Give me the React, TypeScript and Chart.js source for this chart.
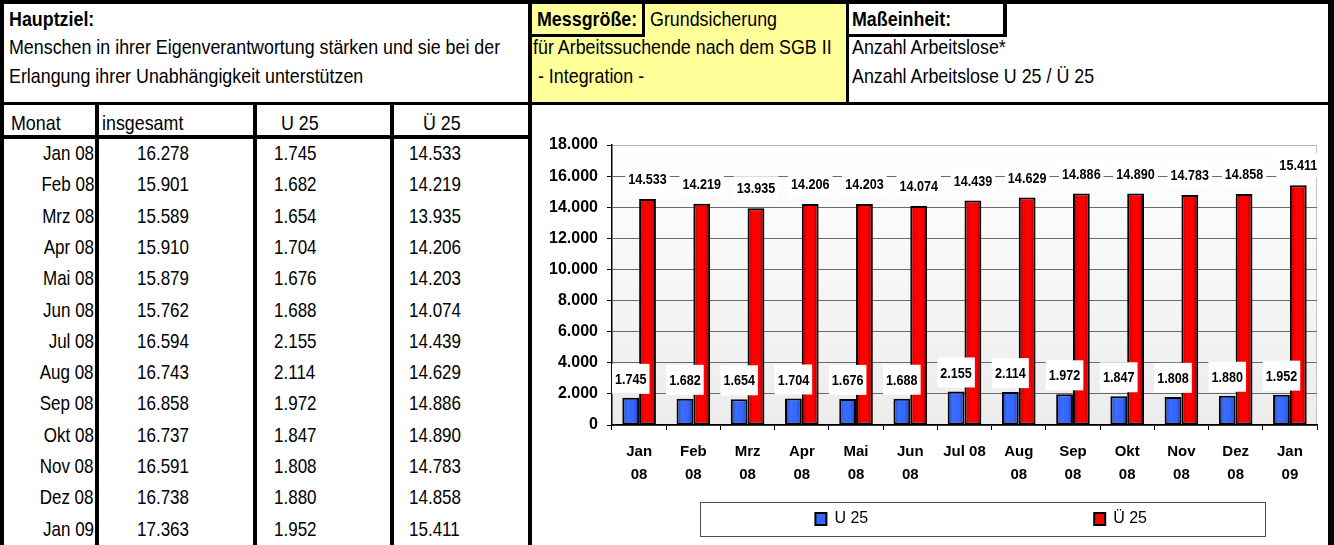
import React, { useEffect, useRef } from "react";
import { Chart, registerables } from "chart.js";

Chart.register(...registerables);

// ---------------- data ----------------
const months = ["Jan 08", "Feb 08", "Mrz 08", "Apr 08", "Mai 08", "Jun 08", "Jul 08", "Aug 08", "Sep 08", "Okt 08", "Nov 08", "Dez 08", "Jan 09"];
const totalCounts = [16278, 15901, 15589, 15910, 15879, 15762, 16594, 16743, 16858, 16737, 16591, 16738, 17363];
const under25 = [1745, 1682, 1654, 1704, 1676, 1688, 2155, 2114, 1972, 1847, 1808, 1880, 1952];
const over25 = [14533, 14219, 13935, 14206, 14203, 14074, 14439, 14629, 14886, 14890, 14783, 14858, 15411];
const axisLabels: (string | string[])[] = [["Jan", "08"], ["Feb", "08"], ["Mrz", "08"], ["Apr", "08"], ["Mai", "08"], ["Jun", "08"], "Jul 08", ["Aug", "08"], ["Sep", "08"], ["Okt", "08"], ["Nov", "08"], ["Dez", "08"], ["Jan", "09"]];
const seriesNames = ["U 25", "Ü 25"];
const yMin = 0;
const yMax = 18000;
const yStep = 2000;
const tableHeaders = ["Monat", "insgesamt", "U 25", "Ü 25"];

// ---------------- helpers ----------------
const FONT = '"Liberation Sans", Arial, sans-serif';
const K_HEAD = 0.85; // horizontal condensing of the sheet text
const K_BODY = 0.81;
const fmt = (n: number) => String(n).replace(/\B(?=(\d{3})+(?!\d))/g, ".");

const blueStops: [number, string][] = [[0, "#1e46c0"], [0.3, "#3b6dff"], [0.7, "#3366ff"], [1, "#1a3a9c"]];
const redStops: [number, string][] = [[0, "#b00000"], [0.3, "#ff0000"], [0.7, "#ff0000"], [1, "#8a0000"]];

const plotBackground = {
  id: "plotBackground",
  beforeDraw(chart: any) {
    const { ctx, chartArea: a } = chart;
    ctx.save();
    const g = ctx.createLinearGradient(0, a.top, 0, a.bottom);
    g.addColorStop(0, "#ffffff");
    g.addColorStop(1, "#ececec");
    ctx.fillStyle = g;
    ctx.fillRect(a.left, a.top, a.width, a.height);
    ctx.strokeStyle = "#c8c8c8";
    ctx.lineWidth = 1;
    ctx.beginPath();
    ctx.moveTo(a.left, a.top + 0.5);
    ctx.lineTo(a.right - 0.5, a.top + 0.5);
    ctx.lineTo(a.right - 0.5, a.bottom);
    ctx.stroke();
    ctx.restore();
  },
};

const barShading = {
  id: "barShading",
  beforeDatasetsDraw(chart: any) {
    const ctx = chart.ctx;
    chart.data.datasets.forEach((_ds: any, di: number) => {
      const meta = chart.getDatasetMeta(di);
      const stops = di === 0 ? blueStops : redStops;
      meta.data.forEach((el: any) => {
        const { x, width } = el.getProps(["x", "width"], true);
        const g = ctx.createLinearGradient(x - width / 2, 0, x + width / 2, 0);
        stops.forEach(([o, c]) => g.addColorStop(o, c));
        el.options = { ...el.options, backgroundColor: g };
      });
    });
  },
};

const LABEL_K = 0.84;
const valueLabels = {
  id: "valueLabels",
  afterDatasetsDraw(chart: any) {
    const ctx = chart.ctx;
    ctx.save();
    ctx.font = `bold 15px ${FONT}`;
    ctx.textAlign = "center";
    ctx.textBaseline = "middle";
    chart.data.datasets.forEach((ds: any, di: number) => {
      const meta = chart.getDatasetMeta(di);
      meta.data.forEach((el: any, i: number) => {
        const text = fmt(ds.data[i]);
        const tw = ctx.measureText(text).width * LABEL_K;
        const cy = el.y - (di === 0 ? 19 : 20);
        const bw = di === 0 ? Math.max(37, tw + 6) : tw + 6;
        const bh = di === 0 ? 30 : 24;
        ctx.fillStyle = "#ffffff";
        ctx.fillRect(el.x - bw / 2, cy - bh / 2, bw, bh);
        ctx.fillStyle = "#000000";
        ctx.save();
        ctx.translate(el.x, cy + 1);
        ctx.scale(LABEL_K, 1);
        ctx.fillText(text, 0, 0);
        ctx.restore();
      });
    });
    ctx.restore();
  },
};

const LEGEND_FONT = 16;
const LEGEND_BOX = 11;
const legendFrame = {
  id: "legendFrame",
  afterDraw(chart: any) {
    const lg = chart.legend;
    if (!lg || !lg.legendHitBoxes || !lg.legendHitBoxes.length) return;
    const hb = lg.legendHitBoxes;
    const first = hb[0];
    const last = hb[hb.length - 1];
    const ctx = chart.ctx;
    ctx.save();
    ctx.font = `${LEGEND_FONT}px ${FONT}`;
    const visEnd = last.left + LEGEND_BOX + LEGEND_FONT / 2 + ctx.measureText(seriesNames[seriesNames.length - 1]).width;
    const cx = (first.left + visEnd) / 2 + 1;
    const cy = first.top + first.height / 2;
    ctx.strokeStyle = "#505050";
    ctx.lineWidth = 1;
    ctx.strokeRect(Math.round(cx - 282) + 0.5, Math.round(cy - 17) + 0.5, 565, 34);
    ctx.restore();
  },
};

function BarChart() {
  const ref = useRef<HTMLCanvasElement>(null);
  useEffect(() => {
    const canvas = ref.current as HTMLCanvasElement;
    const chart = new Chart(canvas, {
      type: "bar",
      data: {
        labels: axisLabels as any,
        datasets: [
          {
            label: seriesNames[0],
            data: under25,
            backgroundColor: "#3366ff",
            borderColor: "#000000",
            borderWidth: 2,
            borderSkipped: false,
            categoryPercentage: 0.62,
            barPercentage: 1,
          },
          {
            label: seriesNames[1],
            data: over25,
            backgroundColor: "#ff0000",
            borderColor: "#000000",
            borderWidth: 2,
            borderSkipped: false,
            categoryPercentage: 0.62,
            barPercentage: 1,
          },
        ],
      },
      options: {
        responsive: false,
        animation: false,
        devicePixelRatio: 1,
        layout: { padding: { top: 40, right: 11, bottom: 8, left: 0 } },
        scales: {
          x: {
            grid: { drawOnChartArea: false, drawTicks: true, tickLength: 5, color: "#000000", offset: true },
            border: { color: "#000000", width: 1.5 },
            ticks: {
              color: "#000000",
              autoSkip: false,
              maxRotation: 0,
              minRotation: 0,
              padding: 10,
              font: { family: FONT, size: 15, weight: "bold", lineHeight: 1.53 },
            },
            afterFit: (s: any) => {
              s.height = 76;
            },
          },
          y: {
            min: yMin,
            max: yMax,
            ticks: {
              stepSize: yStep,
              color: "#000000",
              padding: 9,
              font: { family: FONT, size: 16, weight: "bold" },
              callback: (v: any) => fmt(Number(v)),
            },
            grid: {
              color: (c: any) => (c.tick && c.tick.value === yMax ? "#b4b4b4" : "#6a6a6a"),
              tickColor: "#000000",
              tickLength: 5,
            },
            border: { color: "#000000", width: 1.5 },
            afterFit: (s: any) => {
              s.width = 80;
            },
          },
        },
        plugins: {
          title: { display: false },
          tooltip: { enabled: false },
          legend: {
            position: "bottom",
            align: "end",
            fullSize: false,
            labels: {
              color: "#000000",
              boxWidth: LEGEND_BOX,
              boxHeight: 12,
              padding: 10,
              font: { family: FONT, size: LEGEND_FONT },
              generateLabels: (c: any) => {
                const base = (Chart as any).defaults.plugins.legend.labels.generateLabels(c);
                // wide spacing between the two legend entries, as in the sheet's legend box
                return base.map((it: any, i: number) => ({
                  ...it,
                  text: i === 0 ? it.text + "\u2003".repeat(13) + "\u2002" : it.text + "\u2003".repeat(10),
                }));
              },
            },
          },
        },
      } as any,
      plugins: [plotBackground, barShading, valueLabels, legendFrame],
    });
    return () => chart.destroy();
  }, []);
  return (
    <canvas
      ref={ref}
      width={796}
      height={440}
      style={{ position: "absolute", left: 532, top: 105, width: 796, height: 440 }}
    />
  );
}

const Rect = ({ x, y, w, h, bg = "#000" }: any) => (
  <div style={{ position: "absolute", left: x, top: y, width: w, height: h, background: bg }} />
);

const Txt = ({ x, cy, w, text, bold, align, k }: any) => {
  const right = align === "right";
  return (
    <div
      style={{
        position: "absolute",
        left: x,
        top: cy - 15,
        height: 30,
        lineHeight: "30px",
        width: w,
        textAlign: align || "left",
        fontWeight: bold ? 700 : 400,
        whiteSpace: "pre",
      }}
    >
      <span
        style={{
          display: "inline-block",
          transform: `scaleX(${k || K_HEAD})`,
          transformOrigin: right ? "right center" : "left center",
        }}
      >
        {text}
      </span>
    </div>
  );
};

const ROW0 = 153;
const ROWH = 31.3;

export default function App() {
  return (
    <div
      style={{
        position: "absolute",
        left: 0,
        top: 0,
        width: 1334,
        height: 545,
        overflow: "hidden",
        background: "#ffffff",
        fontFamily: FONT,
        fontSize: 21,
        color: "#000",
      }}
    >
      {/* yellow measure cell */}
      <Rect x={532} y={4} w={314} h={98} bg="#ffff99" />

      {/* header texts */}
      <Txt x={9} cy={19} text="Hauptziel:" bold />
      <Txt x={9} cy={47} text="Menschen in ihrer Eigenverantwortung stärken und sie bei der" />
      <Txt x={9} cy={76} text="Erlangung ihrer Unabhängigkeit unterstützen" />

      <Txt x={537} cy={19} text="Messgröße:" bold />
      <Txt x={650} cy={19} text="Grundsicherung" />
      <Txt x={533} cy={47} text="für Arbeitssuchende nach dem SGB II" />
      <Txt x={533} cy={76} text=" - Integration -" />

      <Txt x={852} cy={19} text="Maßeinheit:" bold />
      <Txt x={852} cy={47} text="Anzahl Arbeitslose*" />
      <Txt x={852} cy={76} text="Anzahl Arbeitslose U 25 / Ü 25" />

      {/* table header */}
      <Txt x={11} cy={123} text={tableHeaders[0]} />
      <Txt x={102} cy={123} text={tableHeaders[1]} />
      <Txt x={281} cy={123} text={tableHeaders[2]} />
      <Txt x={423} cy={123} text={tableHeaders[3]} />

      {/* table body */}
      {months.map((m, i) => (
        <React.Fragment key={m}>
          <Txt x={4} w={90} align="right" cy={ROW0 + i * ROWH} text={m} k={K_BODY} />
          <Txt x={137} cy={ROW0 + i * ROWH} text={fmt(totalCounts[i])} k={K_BODY} />
          <Txt x={274} cy={ROW0 + i * ROWH} text={fmt(under25[i])} k={K_BODY} />
          <Txt x={409} cy={ROW0 + i * ROWH} text={fmt(over25[i])} k={K_BODY} />
        </React.Fragment>
      ))}

      {/* frame lines */}
      <Rect x={0} y={0} w={1334} h={4} />
      <Rect x={0} y={0} w={4} h={545} />
      <Rect x={528} y={0} w={4} h={545} />
      <Rect x={1328} y={0} w={6} h={545} />
      <Rect x={0} y={102} w={1334} h={3} />
      <Rect x={846} y={0} w={3} h={102} />
      <Rect x={642} y={0} w={3} h={37} />
      <Rect x={532} y={34} w={113} h={3} />
      <Rect x={1003} y={0} w={4} h={37} />
      <Rect x={849} y={34} w={158} h={3} />
      <Rect x={0} y={135} w={532} h={4} />
      <Rect x={95} y={102} w={4} h={443} />
      <Rect x={253} y={102} w={4} h={443} />
      <Rect x={390} y={102} w={4} h={443} />

      <BarChart />
    </div>
  );
}
